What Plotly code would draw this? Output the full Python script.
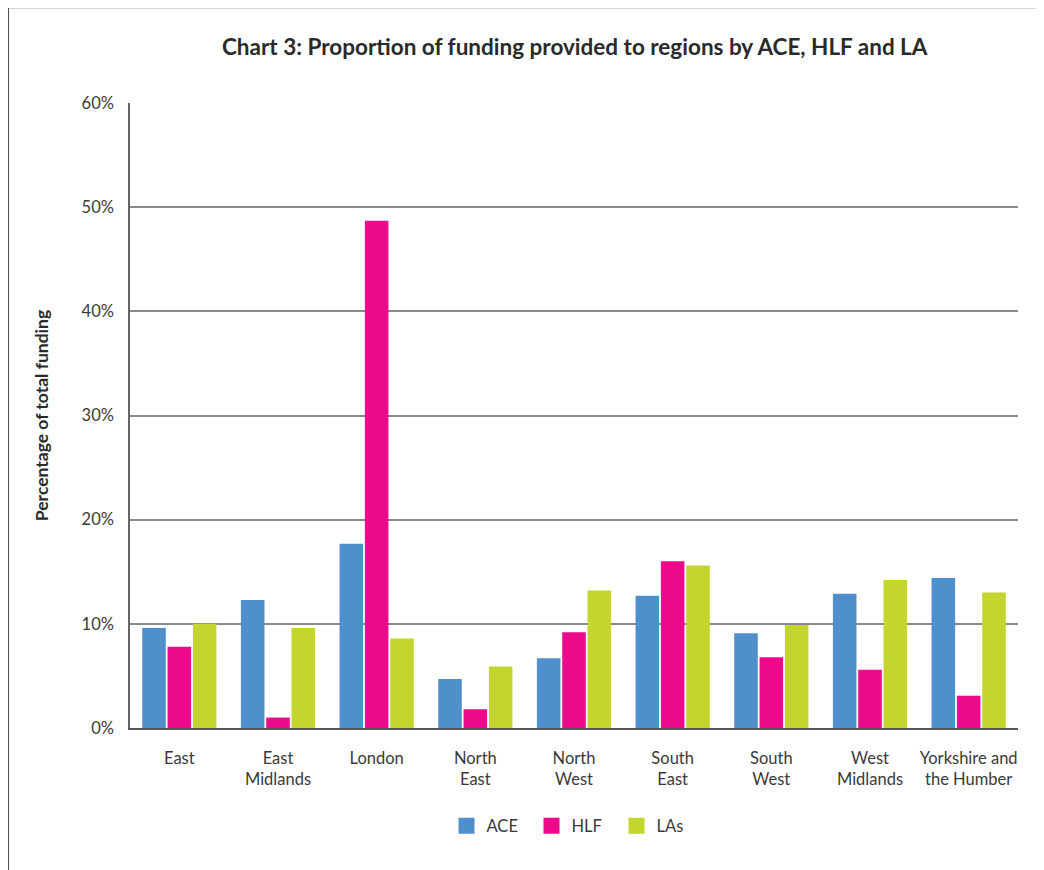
"""Chart 3: share of funding by region (Plotly grouped bar)."""

import plotly.graph_objects as go


REGIONS = [
    "East", "East<br>Midlands", "London", "North<br>East", "North<br>West",
    "South<br>East", "South<br>West", "West<br>Midlands", "Yorkshire and<br>the Humber",
]
ACE = [9.6, 12.3, 17.7, 4.7, 6.7, 12.7, 9.1, 12.9, 14.4]
HLF = [7.8, 1.0, 48.7, 1.8, 9.2, 16.0, 6.8, 5.6, 3.1]
LAS = [10.0, 9.6, 8.6, 5.9, 13.2, 15.6, 9.9, 14.2, 13.0]

SERIES = [("ACE", ACE, "#4F8FCB"), ("HLF", HLF, "#EC098C"), ("LAs", LAS, "#C2D62E")]

Y_TICKS = [0, 10, 20, 30, 40, 50, 60]
Y_LABELS = [f"{v}%" for v in Y_TICKS]

FONT = "Lato, 'Open Sans', sans-serif"
TEXT = "#3a3a3a"

fig = go.Figure()
for name, vals, color in SERIES:
    fig.add_trace(go.Bar(name=name, x=REGIONS, y=vals, marker_color=color,
                         marker_line_width=0, showlegend=False))
# legend-only entries so the swatches can be bigger than the bar default
for name, vals, color in SERIES:
    fig.add_trace(go.Scatter(name=name, x=[None], y=[None], mode="markers",
                             marker=dict(symbol="square", size=16, color=color)))

# outer frame (top + left edges of the page box); page body adds an 8px offset
frame = dict(type="line", xref="paper", yref="paper",
             line=dict(color="#555555", width=1.5))
fig.add_shape(**frame, x0=-0.137, x1=1.2, y0=1.153, y1=1.153)
fig.add_shape(**frame, x0=-0.137, x1=-0.137, y0=1.153, y1=-0.3)

fig.update_layout(
    width=1036, height=862,
    margin=dict(l=122, r=26, t=95, b=142),
    paper_bgcolor="white", plot_bgcolor="white",
    font=dict(family=FONT, color=TEXT, size=16.5),
    title=dict(
        text="<b>Chart 3: Proportion of funding provided to regions by ACE, HLF and LA</b>",
        x=0.547, xanchor="center", y=0.955, yanchor="middle",
        font=dict(size=22.5, color="#2a2a2a"),
    ),
    barmode="group", bargap=0.23, bargroupgap=0.07,
    showlegend=True,
    legend=dict(
        orientation="h", x=0.5, xanchor="center", y=-0.157, yanchor="middle",
        font=dict(size=16.5), traceorder="normal", entrywidth=40,
    ),
    xaxis=dict(
        showgrid=False, showline=True, linecolor="#555555", linewidth=2,
        ticks="", ticklabelstandoff=14, tickfont=dict(size=16.5),
    ),
    yaxis=dict(
        range=[0, 60], tickvals=Y_TICKS, ticktext=Y_LABELS,
        showgrid=True, gridcolor="#8a8a8a", gridwidth=1.5,
        showline=True, linecolor="#666666", linewidth=1.5,
        zeroline=False, ticks="", ticklabelstandoff=11,
        tickfont=dict(size=16.5),
        title=dict(text="<b>Percentage of total funding</b>", standoff=28,
                   font=dict(size=17.5, color="#2a2a2a")),
    ),
)

fig.write_html("out.html")
